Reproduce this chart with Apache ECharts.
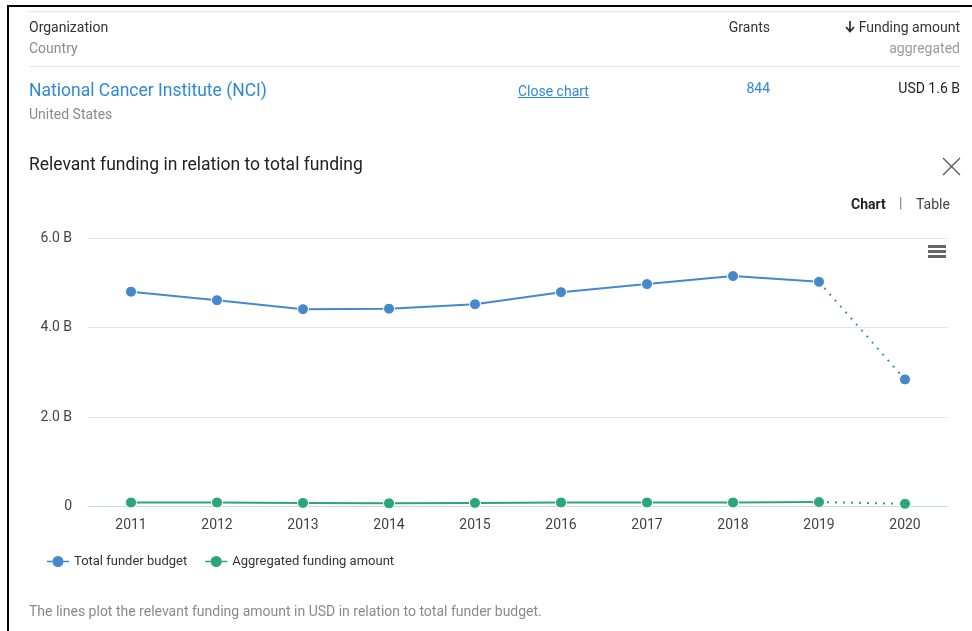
<!DOCTYPE html>
<html>
<head>
<meta charset="utf-8">
<script src="https://cdn.jsdelivr.net/npm/echarts@6/dist/echarts.min.js"></script>
<style>
  html, body { margin: 0; padding: 0; width: 972px; height: 631px; overflow: hidden; background: #fff; font-family: Roboto, "Noto Sans", sans-serif; }
  #frame { position: absolute; left: 7px; top: 5px; width: 1100px; height: 800px; border: 2px solid #000; box-sizing: border-box; }
  #chart { position: absolute; left: 0; top: 0; width: 972px; height: 631px; }
  .t { position: absolute; white-space: nowrap; line-height: 1; }
  .hr { position: absolute; height: 1px; background: #e4e4e4; }
</style>
</head>
<body>
<div id="frame"></div>
<div id="chart"></div>
<div class="hr" style="left:29px; top:11px; width:931px;"></div>
<div class="t" style="left:29px; top:20px; font-size:14px; color:#333;">Organization</div>
<div class="t" style="left:29px; top:41px; font-size:14px; color:#8a8a8a;">Country</div>
<div class="t" style="right:202px; top:20px; font-size:14px; color:#333;">Grants</div>
<svg style="position:absolute; left:845px; top:21px;" width="10" height="12"><path d="M5 0 L5 10 M1 6 L5 10.5 L9 6" stroke="#222" stroke-width="1.6" fill="none"/></svg>
<div class="t" style="right:12px; top:20px; font-size:14px; color:#333;">Funding amount</div>
<div class="t" style="right:12px; top:41px; font-size:14px; color:#9a9a9a;">aggregated</div>
<div class="hr" style="left:29px; top:66px; width:931px;"></div>
<div class="t" style="left:29px; top:82px; font-size:17.5px; color:#2d8ad6;">National Cancer Institute (NCI)</div>
<div class="t" style="left:29px; top:107px; font-size:14px; color:#8a8a8a;">United States</div>
<div class="t" style="left:518px; top:84px; font-size:14px; color:#2d8ad6; text-decoration:underline;">Close chart</div>
<div class="t" style="right:202px; top:81px; font-size:14px; color:#2d8ad6;">844</div>
<div class="t" style="right:12px; top:81px; font-size:14px; color:#222;">USD 1.6 B</div>
<div class="t" style="left:29px; top:156px; font-size:17.5px; color:#222;">Relevant funding in relation to total funding</div>
<svg style="position:absolute; left:942px; top:157px;" width="19" height="19"><path d="M1 1 L18 18 M18 1 L1 18" stroke="#555" stroke-width="1.3" fill="none"/></svg>
<div class="t" style="left:851px; top:197px; font-size:14px; color:#222; font-weight:bold;">Chart</div>
<div class="t" style="left:899px; top:196px; font-size:14px; color:#777;">|</div>
<div class="t" style="left:916px; top:197px; font-size:14px; color:#444;">Table</div>
<div style="position:absolute; left:928px; top:245px; width:18px; height:3px; background:#666;"></div>
<div style="position:absolute; left:928px; top:250px; width:18px; height:3px; background:#666;"></div>
<div style="position:absolute; left:928px; top:255px; width:18px; height:3px; background:#666;"></div>
<div class="t" style="left:29px; top:604px; font-size:14px; color:#8a8a8a;">The lines plot the relevant funding amount in USD in relation to total funder budget.</div>
<script>
const years = ['2011','2012','2013','2014','2015','2016','2017','2018','2019','2020'];
const totalBudget = [4.80, 4.61, 4.41, 4.42, 4.52, 4.79, 4.97, 5.15, 5.02, 2.84];
const aggregated = [0.09, 0.09, 0.08, 0.07, 0.08, 0.09, 0.09, 0.09, 0.10, 0.06];
const yTicks = [0, 2, 4, 6];
const seriesNames = ['Total funder budget', 'Aggregated funding amount'];

const blue = '#4589cc';
const green = '#2ba678';
const last = years.length - 1;
const legendIcon = 'path://M0,5.3 h5.5 v1.4 h-5.5 Z M16.5,5.3 h5.5 v1.4 h-5.5 Z M11,0.5 a5.5,5.5 0 1,0 0.001,0 Z';

function solidPart(arr) { return arr.map((v, i) => i < last ? v : null); }
function dottedPart(arr) { return arr.map((v, i) => i >= last - 1 ? v : null); }

function makeSeries(name, arr, color) {
  return [
    {
      name: name, type: 'line', data: solidPart(arr), color: color,
      symbol: 'circle', symbolSize: 11, showSymbol: true,
      lineStyle: { width: 2, color: color },
      itemStyle: { color: color, borderColor: '#fff', borderWidth: 1 },
      emphasis: { disabled: true }, animation: false, connectNulls: false
    },
    {
      name: name + ' (projection)', type: 'line', data: dottedPart(arr), color: color,
      symbol: (v, p) => p.dataIndex === last ? 'circle' : 'none', symbolSize: 11, showSymbol: true,
      lineStyle: { width: 2, color: color, type: [2, 6] },
      itemStyle: { color: color, borderColor: '#fff', borderWidth: 1 },
      emphasis: { disabled: true }, animation: false
    }
  ];
}

const chart = echarts.init(document.getElementById('chart'), null, { renderer: 'canvas' });
chart.setOption({
  animation: false,
  textStyle: { fontFamily: 'Roboto' },
  grid: { left: 88, right: 24, top: 238, bottom: 124.5, containLabel: false },
  legend: {
    left: 47, top: 555, padding: 0, itemWidth: 22, itemHeight: 12, itemGap: 18,
    itemStyle: { borderWidth: 0 },
    textStyle: { fontSize: 13, color: '#333', fontFamily: 'Roboto' },
    data: seriesNames.map(n => ({ name: n, icon: legendIcon }))
  },
  xAxis: {
    type: 'category', data: years, boundaryGap: true,
    axisLine: { lineStyle: { color: '#ccd6eb', width: 1 } },
    axisTick: { show: false },
    axisLabel: { fontSize: 14, color: '#444', margin: 12, fontFamily: 'Roboto' }
  },
  yAxis: {
    type: 'value', min: 0, max: 6, interval: 2,
    axisLine: { show: false }, axisTick: { show: false },
    splitLine: { lineStyle: { color: '#e6e6e6', width: 1 } },
    axisLabel: {
      fontSize: 14, color: '#444', margin: 16, fontFamily: 'Roboto',
      formatter: v => yTicks.includes(v) ? (v === 0 ? '0' : v.toFixed(1) + ' B') : ''
    }
  },
  series: [].concat(
    makeSeries(seriesNames[0], totalBudget, blue),
    makeSeries(seriesNames[1], aggregated, green)
  )
});
</script>
</body>
</html>
